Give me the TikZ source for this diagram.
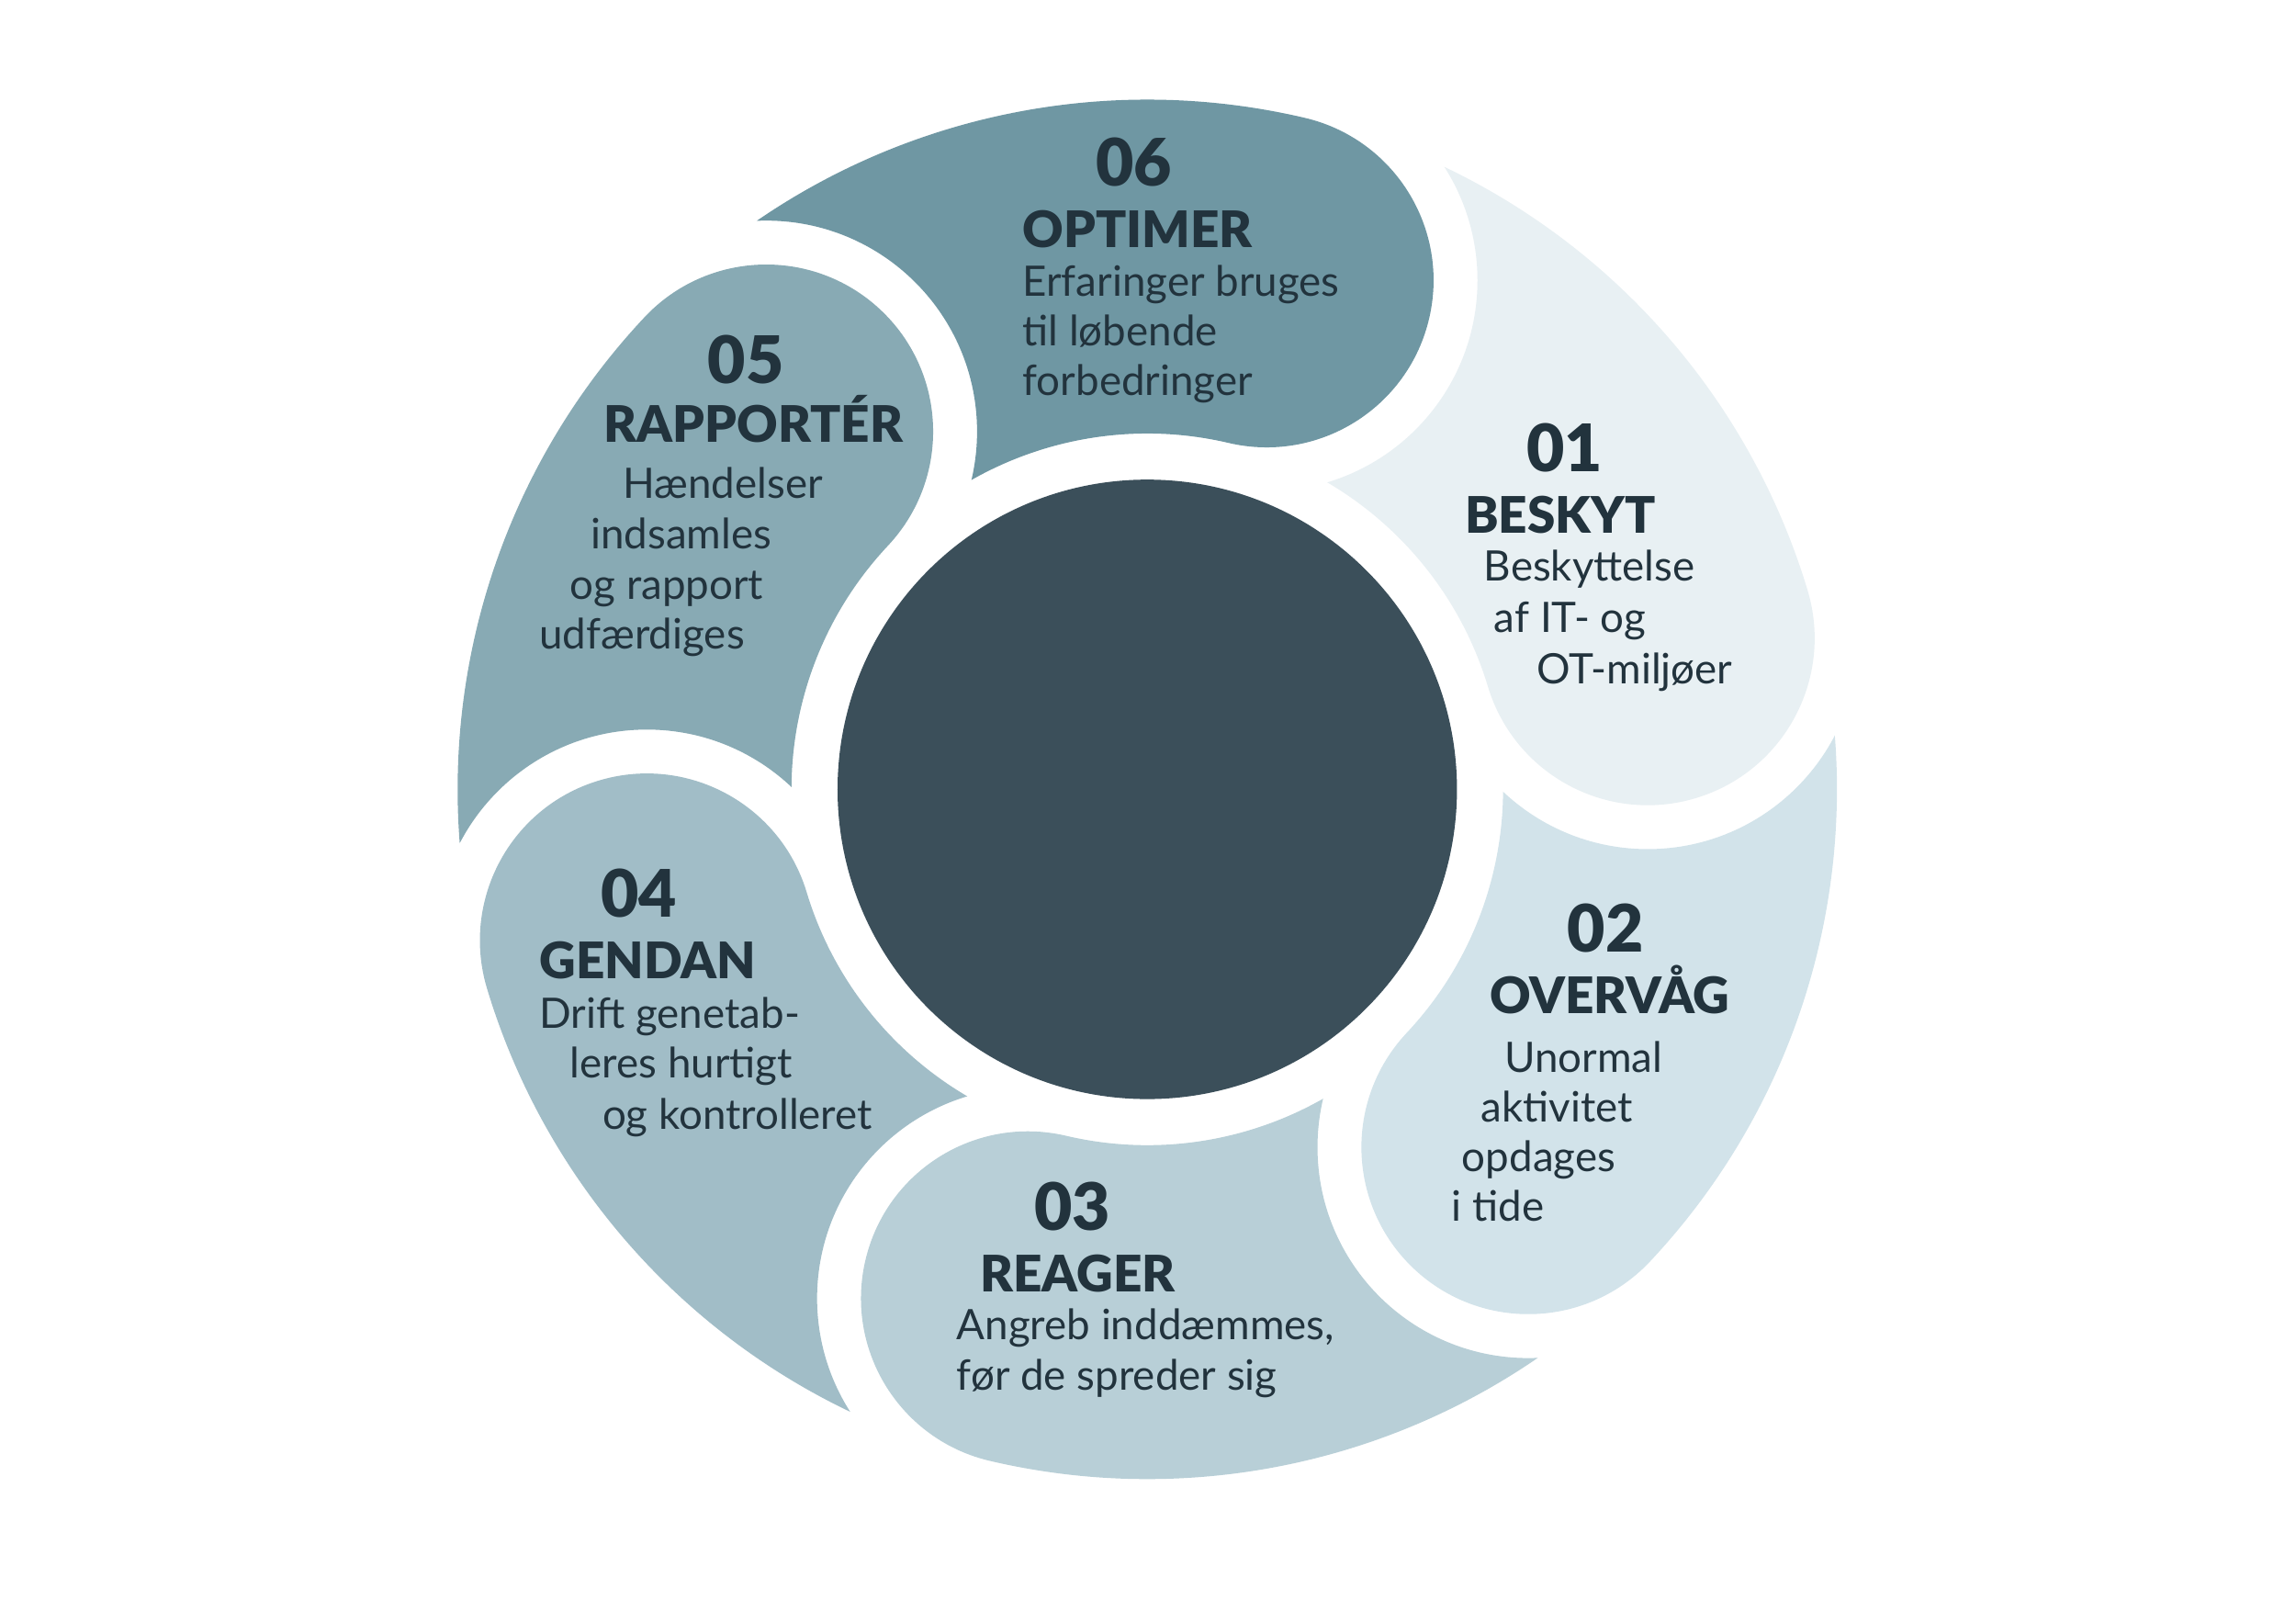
\documentclass[tikz,border=0pt]{standalone}
\usepackage{fontspec}
\setmainfont{Lato}
\IfFontExistsTF{Lato Black}{\newfontfamily\heavyfont{Lato Black}\def\heavysize{0.965}}{\newfontfamily\heavyfont{Lato}[UprightFont={* Bold}]\def\heavysize{1}}
\definecolor{c01}{HTML}{E8F0F3}
\definecolor{c02}{HTML}{D2E3EA}
\definecolor{c03}{HTML}{B8CFD7}
\definecolor{c04}{HTML}{A1BDC7}
\definecolor{c05}{HTML}{88AAB4}
\definecolor{c06}{HTML}{6F97A3}
\definecolor{hub}{HTML}{3B4F5A}
\definecolor{txt}{HTML}{22333D}
\tikzset{
  num/.style={font=\heavyfont\fontsize{20.3}{21}\selectfont, text=txt, anchor=base west, inner sep=0pt},
  ttl/.style={font=\heavyfont\fontsize{15.6}{16}\selectfont, text=txt, anchor=base west, inner sep=0pt},
  body/.style={font=\fontsize{13}{13}\selectfont, text=txt, anchor=base west, inner sep=0pt},
  seg/.style={line width=3.6352cm, line cap=round}
}
\begin{document}
\begin{tikzpicture}[x=0.015944cm,y=-0.015944cm]
\useasboundingbox[fill=white] (0,0) rectangle (1568,1108);
\coordinate (C) at (783.5,539);
\begin{scope}[shift={(783.5,539)}]
\foreach \s/\e/\c in {-136.8/-76.8/c06, -76.8/-16.8/c01, -16.8/43.2/c02, 43.2/103.2/c03, 103.2/163.2/c04, 163.2/223.2/c05}{
  \begin{scope}[even odd rule]
    \clip (-900,-700) rectangle (900,700) (\s:357) circle (144);
    \draw[seg, \c] (\s:357) arc (\s:\e:357);
  \end{scope}
}
\fill[hub] (0,0) circle (211.5);
\end{scope}
% 06
\node[num] (n06) at (748,127) {06};
\node[ttl] (t06) at (698,169) {OPTIMER};
\node[body] (b06a) at (698,202) {Erfaringer bruges};
\node[body] (b06b) at (698,236) {til løbende};
\node[body] (b06c) at (698,270) {forbedringer};
% 05
\node[num] (n05) at (483,262) {05};
\node[ttl] (t05) at (412,302) {RAPPORTÉR};
\node[body] (b05a) at (425,340) {Hændelser};
\node[body] (b05b) at (403,375) {indsamles};
\node[body] (b05c) at (389,409) {og rapport};
\node[body] (b05d) at (368,443) {udfærdiges};
% 01
\node[num] (n01) at (1042,322) {01};
\node[ttl] (t01) at (1000,364) {BESKYT};
\node[body] (b01a) at (1013,397) {Beskyttelse};
\node[body] (b01b) at (1020,432) {af IT- og};
\node[body] (b01c) at (1049,467) {OT-miljøer};
% 02
\node[num] (n02) at (1070,650) {02};
\node[ttl] (t02) at (1017,692) {OVERVÅG};
\node[body] (b02a) at (1027,732) {Unormal};
\node[body] (b02b) at (1011,766) {aktivitet};
\node[body] (b02c) at (998,800) {opdages};
\node[body] (b02d) at (991,834) {i tide};
% 03
\node[num] (n03) at (706,840) {03};
\node[ttl] (t03) at (669,882) {REAGER};
\node[body] (b03a) at (653,915) {Angreb inddæmmes,};
\node[body] (b03b) at (653,949) {før de spreder sig};
% 04
\node[num] (n04) at (410,626) {04};
\node[ttl] (t04) at (368,668) {GENDAN};
\node[body] (b04a) at (368,702) {Drift genetab-};
\node[body] (b04b) at (389,736) {leres hurtigt};
\node[body] (b04c) at (411,771) {og kontrolleret};
\end{tikzpicture}
\end{document}
